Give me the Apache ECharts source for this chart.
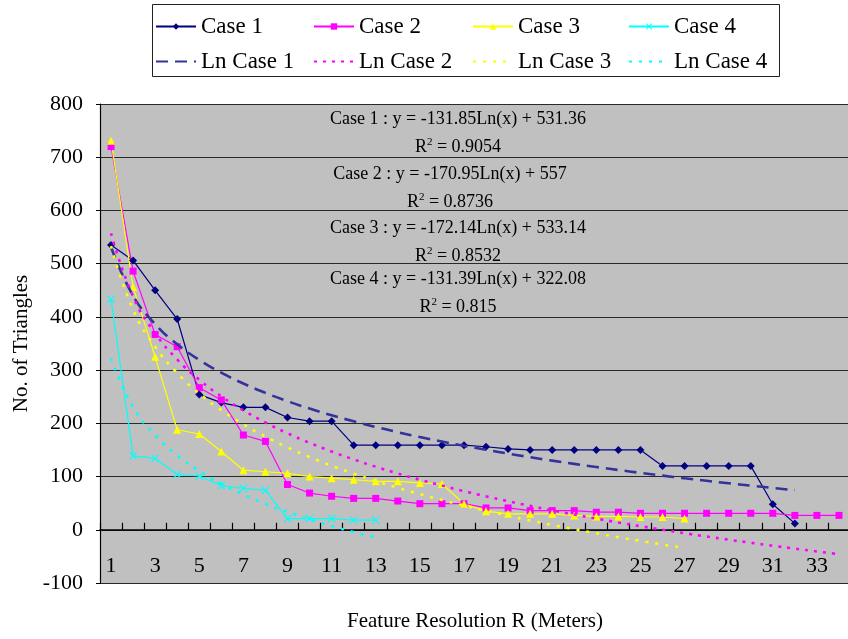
<!doctype html>
<html>
<head>
<meta charset="utf-8">
<title>No. of Triangles vs Feature Resolution</title>
<style>
  html, body { margin: 0; padding: 0; background: #fff; }
  #main { width: 848px; height: 639px; }
</style>
</head>
<body>
<div id="main"></div>
<script src="https://cdn.jsdelivr.net/npm/echarts@6/dist/echarts.min.js"></script>
<script>
// feature resolution R (meters) on the category axis
var resolution = ['1', '2', '3', '4', '5', '6', '7', '8', '9', '10', '11', '12', '13', '14', '15', '16', '17',
  '18', '19', '20', '21', '22', '23', '24', '25', '26', '27', '28', '29', '30', '31', '32', '33', '34'];

// no. of triangles
var case1 = [535, 506, 450, 396, 254, 239, 230, 230, 211, 204, 204, 159, 159, 159, 159, 159, 159, 156, 152,
  150, 150, 150, 150, 150, 150, 120, 120, 120, 120, 120, 48, 12];
var case2 = [720, 486, 367, 344, 267, 244, 178, 166, 85, 69, 63, 59, 59, 54, 49, 49, 49, 41, 41, 36, 36, 36,
  33, 33, 31, 31, 31, 31, 31, 31, 31, 27, 27, 27];
var case3 = [731, 456, 325, 188, 180, 147, 112, 109, 106, 100, 97, 94, 91, 91, 88, 86, 49, 35, 30, 30, 30,
  27, 25, 25, 24, 24, 21];
var case4 = [433, 139, 134, 104, 101, 83, 78, 74, 21, 21, 21, 18, 18];

// log trendlines as printed on the chart: y = slope * Ln(x) + intercept
var trendSlope = [-131.85, -170.95, -172.14, -131.39];
var trendIntercept = [531.36, 557, 533.14, 322.08];
var trendR2 = ['0.9054', '0.8736', '0.8532', '0.815'];
var caseData = [case1, case2, case3, case4];

var yTicks = { min: -100, max: 800, step: 100 };

function trend(i) {
  var out = [];
  for (var x = 1; x <= caseData[i].length; x++) {
    out.push(+(trendSlope[i] * Math.log(x) + trendIntercept[i]).toFixed(2));
  }
  return out;
}

var font = 'Liberation Serif';
var colors = ['#000080', '#FF00FF', '#FFFF00', '#00FFFF'];
var trendColors = ['#333399', '#FF00FF', '#FFFF00', '#00FFFF'];
var symbols = ['diamond', 'rect', 'triangle',
  'path://M0,1L1,0L5,4L9,0L10,1L6,5L10,9L9,10L5,6L1,10L0,9L4,5Z'];
var symbolSizes = [8, 7, 8, 8];
var trendDash = [[12, 7], [3, 6], [3, 7], [3, 7]];

var series = [];
for (var i = 0; i < 4; i++) {
  series.push({
    name: 'Case ' + (i + 1),
    type: 'line',
    data: caseData[i],
    symbol: symbols[i],
    symbolSize: symbolSizes[i],
    color: colors[i],
    lineStyle: { width: 1.2, color: colors[i] },
    itemStyle: { color: colors[i] },
    z: 3
  });
}
for (var j = 0; j < 4; j++) {
  series.push({
    name: 'Ln Case ' + (j + 1),
    type: 'line',
    data: trend(j),
    smooth: true,
    symbol: 'none',
    color: trendColors[j],
    lineStyle: { width: 2.6, type: trendDash[j], color: trendColors[j] },
    z: 4
  });
}

// legend: four columns, each "Case n" above "Ln Case n"
var legendX = [155, 313, 472, 628];
var legends = legendX.map(function (x, k) {
  return {
    orient: 'vertical',
    left: x,
    top: 15,
    padding: 0,
    itemGap: 12,
    itemWidth: 40,
    itemHeight: 8,
    selectedMode: false,
    textStyle: { fontFamily: font, fontSize: 23, color: '#000' },
    data: ['Case ' + (k + 1), { name: 'Ln Case ' + (k + 1), itemStyle: { opacity: 0 } }]
  };
});

// trendline equation labels
var eqX = [458, 450, 458, 458];
var eqY = [119, 174, 228, 279];
var graphics = [{
  type: 'rect',
  shape: { x: 152.5, y: 4.5, width: 627, height: 72 },
  style: { fill: 'none', stroke: '#222', lineWidth: 1 }
}];
for (var n = 0; n < 4; n++) {
  graphics.push({
    type: 'text',
    x: eqX[n], y: eqY[n],
    z: 10,
    style: {
      text: 'Case ' + (n + 1) + ' : y = ' + trendSlope[n] + 'Ln(x) + ' + trendIntercept[n],
      font: '18px ' + font, fill: '#000', align: 'center', verticalAlign: 'middle'
    }
  });
  graphics.push({
    type: 'text',
    x: eqX[n], y: eqY[n] + 28,
    z: 10,
    style: {
      text: 'R{s|2} = ' + trendR2[n],
      font: '18px ' + font, fill: '#000', align: 'center', verticalAlign: 'middle',
      rich: { s: { fontSize: 11, fontFamily: font, verticalAlign: 'top', padding: [0, 0, 10, 0] } }
    }
  });
}

var chart = echarts.init(document.getElementById('main'));
chart.setOption({
  animation: false,
  backgroundColor: '#fff',
  textStyle: { fontFamily: font },
  legend: legends,
  graphic: graphics,
  grid: {
    left: 100, top: 104, width: 750, height: 479,
    outerBoundsMode: 'none', containLabel: false,
    show: true, backgroundColor: '#C0C0C0', borderWidth: 0
  },
  xAxis: [{
    // axis line and ticks crossing at 0
    type: 'category',
    data: resolution,
    boundaryGap: true,
    axisLine: { onZero: true, lineStyle: { color: '#000', width: 1.5 } },
    axisTick: { show: true, inside: true, length: 7, interval: 0, lineStyle: { color: '#000', width: 1.2 } },
    axisLabel: { show: false },
    splitLine: { show: false }
  }, {
    // labels and title along the bottom of the plot
    type: 'category',
    data: resolution,
    boundaryGap: true,
    position: 'bottom',
    name: 'Feature Resolution R (Meters)',
    nameLocation: 'middle',
    nameGap: 28,
    nameTextStyle: { fontFamily: font, fontSize: 21, color: '#000' },
    axisLine: { show: false, onZero: false },
    axisTick: { show: false },
    axisLabel: { interval: 1, margin: -28, fontFamily: font, fontSize: 22, color: '#000' },
    splitLine: { show: false }
  }],
  yAxis: {
    type: 'value',
    min: yTicks.min,
    max: yTicks.max,
    interval: yTicks.step,
    name: 'No. of Triangles',
    nameLocation: 'middle',
    nameRotate: 90,
    nameGap: 60,
    nameTextStyle: { fontFamily: font, fontSize: 21, color: '#000' },
    axisLine: { show: true, lineStyle: { color: '#000', width: 1.2 } },
    axisTick: { show: true, length: 4, lineStyle: { color: '#000' } },
    axisLabel: { margin: 17, fontFamily: font, fontSize: 22, color: '#000' },
    splitLine: { show: true, lineStyle: { color: '#2a2a2a', width: 1.2 } }
  },
  series: series
});
</script>
</body>
</html>
